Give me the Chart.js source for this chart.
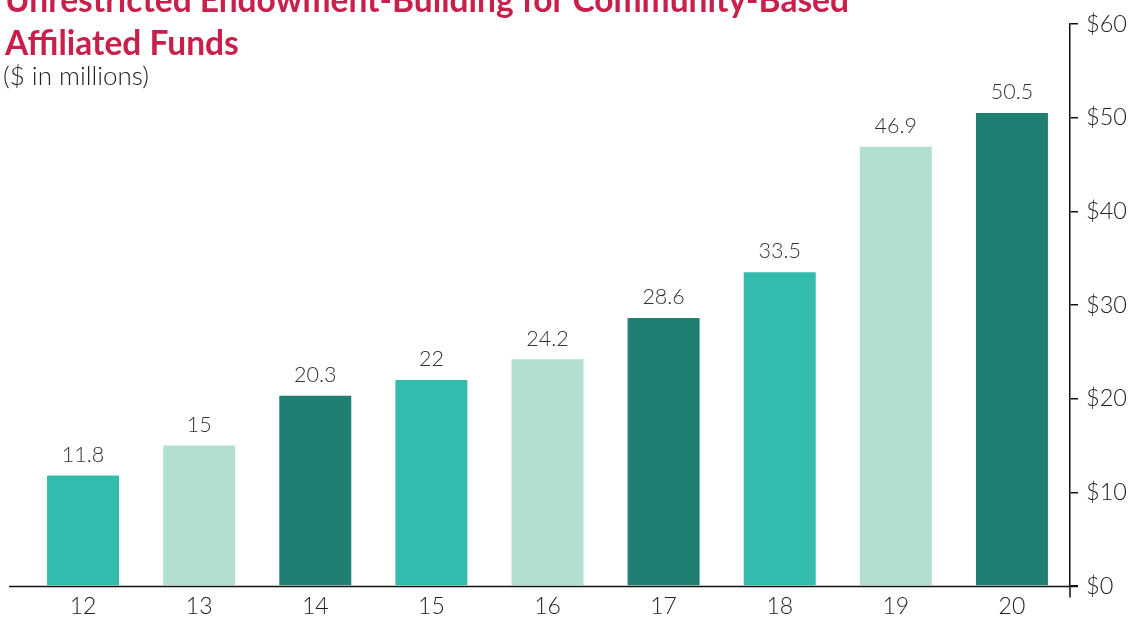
<!DOCTYPE html>
<html>
<head>
<meta charset="utf-8">
<script src="https://cdn.jsdelivr.net/npm/chart.js@4.4.1/dist/chart.umd.min.js"></script>
<style>
  html, body { margin: 0; padding: 0; background: #fff; overflow: hidden; }
  #wrap { position: relative; width: 1133px; height: 617px; }
  .title {
    position: absolute; left: 5px; top: -22px;
    font: 700 33.5px/43px Lato, sans-serif; color: #c8204b;
    white-space: nowrap; z-index: 2;
  }
  .sub {
    position: absolute; left: 3px; top: 60px;
    font: 300 26px/30px Lato, sans-serif; color: #222; z-index: 2;
  }
</style>
</head>
<body>
<div id="wrap">
  <div class="title">Unrestricted Endowment-Building for Community-Based<br>Affiliated Funds</div>
  <div class="sub">($ in millions)</div>
  <canvas id="endowChart" width="1133" height="617"></canvas>
</div>
<script>
const years = ["12", "13", "14", "15", "16", "17", "18", "19", "20"];
const amounts = [11.8, 15, 20.3, 22, 24.2, 28.6, 33.5, 46.9, 50.5];
const barColors = ["#33bbad", "#b2dfd1", "#1f7f73", "#33bbad", "#b2dfd1", "#1f7f73", "#33bbad", "#b2dfd1", "#1f7f73"];
const yMax = 60;
const yStep = 10;

// value labels above bars + axis lines that run a bit past the plot area
const extras = {
    id: "extras",
    afterDatasetsDraw(chart) {
        const ctx = chart.ctx;
        const meta = chart.getDatasetMeta(0);
        ctx.save();
        ctx.font = "300 21.5px Lato, sans-serif";
        ctx.fillStyle = "#333";
        ctx.textAlign = "center";
        ctx.textBaseline = "bottom";
        meta.data.forEach((bar, i) => {
            ctx.fillText(String(amounts[i]), bar.x, bar.y - 10);
        });
        ctx.restore();
    },
    afterDraw(chart) {
        const ctx = chart.ctx;
        const y = chart.scales.y;
        const area = chart.chartArea;
        const y0 = Math.round(y.getPixelForValue(0)) + 0.5;
        ctx.save();
        ctx.strokeStyle = "#111";
        ctx.lineWidth = 1.5;
        ctx.beginPath();
        ctx.moveTo(area.left - 16, y0);
        ctx.lineTo(area.right + 8, y0);
        ctx.moveTo(area.right, y0);
        ctx.lineTo(area.right, y0 + 11);
        ctx.stroke();
        ctx.restore();
    }
};

new Chart(document.getElementById("endowChart"), {
    type: "bar",
    data: {
        labels: years,
        datasets: [{
            data: amounts,
            backgroundColor: barColors,
            borderWidth: 0,
            barPercentage: 0.62,
            categoryPercentage: 1
        }]
    },
    options: {
        responsive: false,
        animation: false,
        layout: { padding: { left: 25, top: 24, right: 0, bottom: 0 } },
        plugins: {
            legend: { display: false },
            tooltip: { enabled: false }
        },
        scales: {
            x: {
                grid: { display: false, drawTicks: false },
                border: { display: false },
                ticks: {
                    color: "#222",
                    font: { family: "Lato", size: 23, weight: 300 },
                    padding: 7
                },
                afterFit(scale) { scale.height = 31; }
            },
            y: {
                position: "right",
                min: 0,
                max: yMax,
                grid: {
                    drawOnChartArea: false,
                    drawTicks: true,
                    tickLength: 8,
                    color: "#111",
                    lineWidth: 1.5
                },
                border: { display: true, color: "#111", width: 1.5 },
                ticks: {
                    stepSize: yStep,
                    color: "#222",
                    font: { family: "Lato", size: 23.5, weight: 300 },
                    padding: 8,
                    callback: v => "$" + v
                },
                afterFit(scale) { scale.width = 63; }
            }
        }
    },
    plugins: [extras]
});
</script>
</body>
</html>
